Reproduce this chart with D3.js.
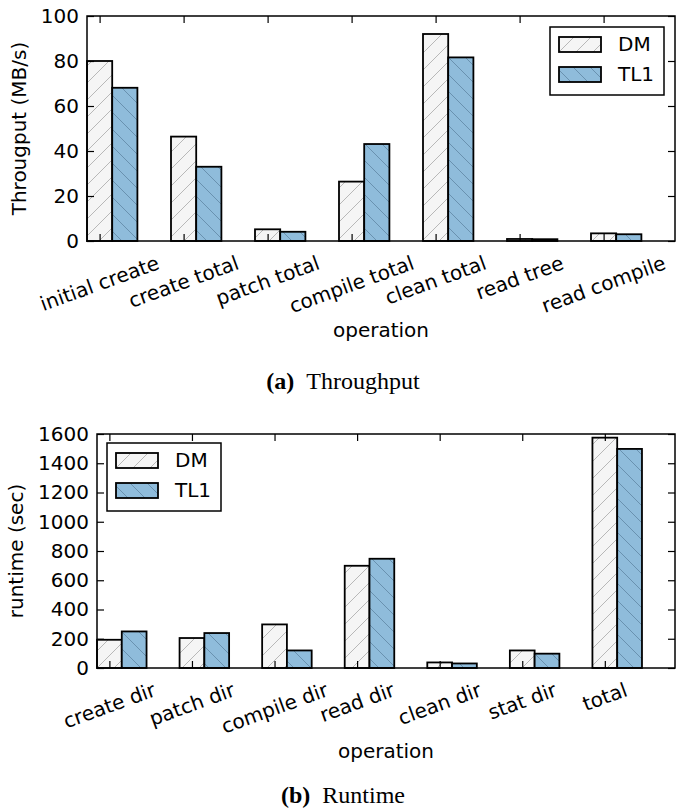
<!DOCTYPE html>
<html>
<head>
<meta charset="utf-8">
<script src="https://cdn.jsdelivr.net/npm/d3@7/dist/d3.min.js"></script>
<style>
  body { margin: 0; background: #fff; }
  svg text { font-family: "DejaVu Sans", sans-serif; fill: #000; }
  .caption { font-family: "Liberation Serif", "Times New Roman", serif; }
</style>
</head>
<body>
<div id="chart"></div>
<script>
// throughput panel (a)
const throughputOps = ["initial create", "create total", "patch total", "compile total", "clean total", "read tree", "read compile"];
const throughputDM = [80.0, 46.4, 5.2, 26.4, 92.0, 0.9, 3.4];
const throughputTL1 = [68.1, 33.0, 4.1, 43.1, 81.6, 0.8, 3.0];
const throughputTicks = [0, 20, 40, 60, 80, 100];

// runtime panel (b)
const runtimeOps = ["create dir", "patch dir", "compile dir", "read dir", "clean dir", "stat dir", "total"];
const runtimeDM = [193, 205, 298, 699, 38, 120, 1575];
const runtimeTL1 = [250, 239, 120, 747, 31, 98, 1498];
const runtimeTicks = [0, 200, 400, 600, 800, 1000, 1200, 1400, 1600];

const seriesNames = ["DM", "TL1"];

const W = 686, H = 808;
const fontSize = 20;
const barW = 0.3;
const tickLen = 7;

const svg = d3.select("#chart").append("svg")
  .attr("width", W)
  .attr("height", H);

const defs = svg.append("defs");

// hatch patterns: "/" for DM, "\" for TL1
const hatch = (id, bg, lineColor, forward) => {
  const s = 17;
  const p = defs.append("pattern")
    .attr("id", id)
    .attr("patternUnits", "userSpaceOnUse")
    .attr("width", s)
    .attr("height", s);
  p.append("rect").attr("width", s).attr("height", s).attr("fill", bg);
  const d = forward
    ? `M0,${s} L${s},0 M${-s/2},${s/2} L${s/2},${-s/2} M${s/2},${s*1.5} L${s*1.5},${s/2}`
    : `M0,0 L${s},${s} M${-s/2},${s/2} L${s/2},${s*1.5} M${s/2},${-s/2} L${s*1.5},${s/2}`;
  p.append("path").attr("d", d).attr("stroke", lineColor).attr("stroke-width", 0.8).attr("fill", "none");
};
hatch("hatchDM", "#f5f5f5", "#a8a8a8", true);
hatch("hatchTL1", "#8fbcdb", "#5f87a3", false);
const fills = ["url(#hatchDM)", "url(#hatchTL1)"];

function drawPanel(cfg) {
  const { ops, dm, tl1, ticks, left, right, top, bottom, yLabel, legend, xLabelY, caption, captionLetter, captionY, yLabelX } = cfg;

  const x = d3.scaleLinear().domain([0, ops.length]).range([left, right]);
  const y = d3.scaleLinear().domain([ticks[0], ticks[ticks.length - 1]]).range([bottom, top]);
  const g = svg.append("g");

  // bars
  [dm, tl1].forEach((vals, s) => {
    g.selectAll(null)
      .data(vals)
      .enter()
      .append("rect")
      .attr("x", (d, i) => x(i + s * barW))
      .attr("y", d => y(d))
      .attr("width", x(barW) - x(0))
      .attr("height", d => y(0) - y(d))
      .attr("fill", fills[s])
      .attr("stroke", "#000")
      .attr("stroke-width", 1.8);
  });

  const tickPos = ops.map((o, i) => i + barW / 2);

  // inward ticks on all four sides
  const leftAxis = g.append("g")
    .attr("transform", "translate(" + left + ",0)")
    .call(d3.axisLeft(y).tickValues(ticks).tickFormat(d3.format("d")).tickSizeInner(-tickLen).tickSizeOuter(0).tickPadding(8));
  g.append("g")
    .attr("transform", "translate(" + right + ",0)")
    .call(d3.axisRight(y).tickValues(ticks).tickSizeInner(-tickLen).tickSizeOuter(0).tickFormat(""));
  g.append("g")
    .attr("transform", "translate(0," + top + ")")
    .call(d3.axisTop(x).tickValues(tickPos).tickSizeInner(-tickLen).tickSizeOuter(0).tickFormat(""));
  g.append("g")
    .attr("transform", "translate(0," + bottom + ")")
    .call(d3.axisBottom(x).tickValues(tickPos).tickSizeInner(-tickLen).tickSizeOuter(0).tickFormat(""));

  g.selectAll(".domain").remove();
  g.selectAll(".tick line").attr("stroke", "#000").attr("stroke-width", 1.2);
  leftAxis.selectAll("text")
    .attr("font-size", fontSize)
    .attr("font-family", "DejaVu Sans")
    .attr("fill", "#000");

  g.append("rect")
    .attr("x", left)
    .attr("y", top)
    .attr("width", right - left)
    .attr("height", bottom - top)
    .attr("fill", "none")
    .attr("stroke", "#000")
    .attr("stroke-width", 1.5);

  // rotated category labels, box top just under the axis
  const ang = 20 * Math.PI / 180;
  g.selectAll(null)
    .data(ops)
    .enter()
    .append("text")
    .attr("font-size", fontSize)
    .attr("text-anchor", "middle")
    .attr("dominant-baseline", "central")
    .text(d => d)
    .attr("transform", function(d, i) {
      const L = this.getComputedTextLength();
      const h = L * Math.sin(ang) + fontSize * 0.95 * Math.cos(ang);
      return "translate(" + x(tickPos[i]) + "," + (bottom + 12 + h / 2) + ") rotate(-20)";
    });

  g.append("text")
    .attr("x", (left + right) / 2)
    .attr("y", xLabelY)
    .attr("text-anchor", "middle")
    .attr("font-size", fontSize)
    .text("operation");

  g.append("text")
    .attr("text-anchor", "middle")
    .attr("font-size", fontSize)
    .attr("transform", "translate(" + yLabelX + "," + ((top + bottom) / 2) + ") rotate(-90)")
    .text(yLabel);

  // legend
  const lg = g.append("g").attr("transform", "translate(" + legend.x + "," + legend.y + ")");
  lg.append("rect")
    .attr("width", 114)
    .attr("height", 68)
    .attr("fill", "#fff")
    .attr("stroke", "#000")
    .attr("stroke-width", 1.5);
  seriesNames.forEach((name, s) => {
    lg.append("rect")
      .attr("x", 9)
      .attr("y", 10 + s * 30)
      .attr("width", 42)
      .attr("height", 15)
      .attr("fill", fills[s])
      .attr("stroke", "#000")
      .attr("stroke-width", 1.8);
    lg.append("text")
      .attr("x", 68)
      .attr("y", 24 + s * 30)
      .attr("font-size", fontSize)
      .text(name);
  });

  // caption
  const cap = svg.append("text")
    .attr("class", "caption")
    .attr("x", W / 2)
    .attr("y", captionY)
    .attr("text-anchor", "middle")
    .attr("font-size", 24);
  cap.append("tspan").attr("font-weight", "bold").text("(" + captionLetter + ")");
  cap.append("tspan").text("\u2002" + caption);
}

drawPanel({
  ops: throughputOps, dm: throughputDM, tl1: throughputTL1, ticks: throughputTicks,
  left: 87, right: 675, top: 16, bottom: 241,
  yLabel: "Througput (MB/s)", yLabelX: 26,
  legend: { x: 550, y: 27 },
  xLabelY: 337, caption: "Throughput", captionLetter: "a", captionY: 389
});

drawPanel({
  ops: runtimeOps, dm: runtimeDM, tl1: runtimeTL1, ticks: runtimeTicks,
  left: 97, right: 675, top: 434, bottom: 668,
  yLabel: "runtime (sec)", yLabelX: 23,
  legend: { x: 107, y: 443 },
  xLabelY: 758, caption: "Runtime", captionLetter: "b", captionY: 803
});
</script>
</body>
</html>
